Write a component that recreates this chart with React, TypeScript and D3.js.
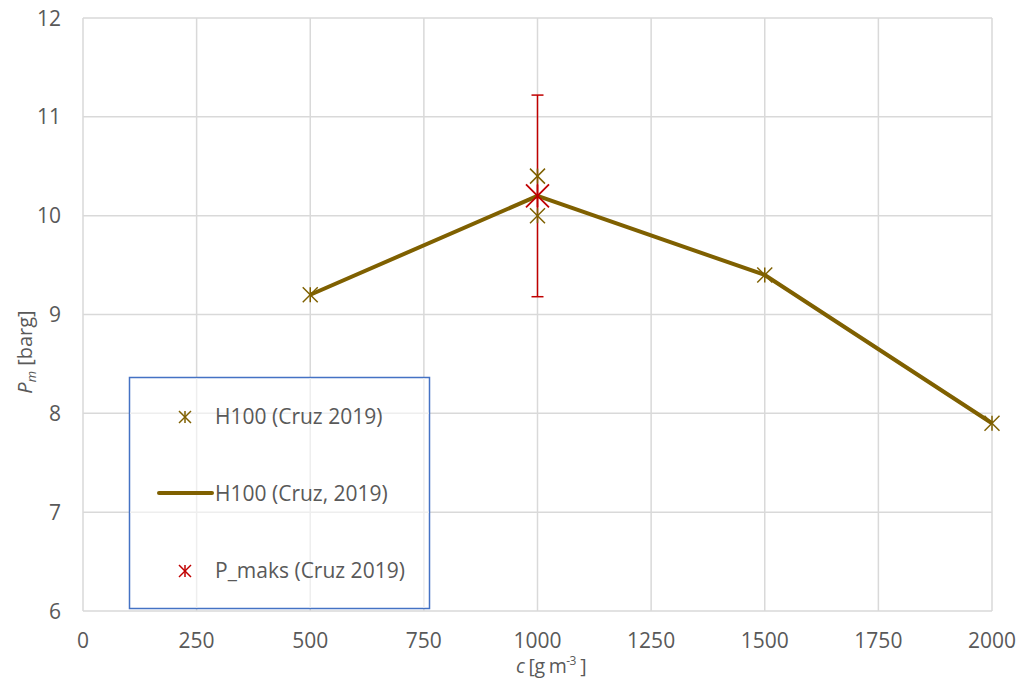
import React from "react";
import * as d3 from "d3";

// H100 measured points (Cruz 2019)
const h100X = [500, 1000, 1000, 1500, 2000];
const h100Y = [9.2, 10.4, 10.0, 9.4, 7.9];

// H100 mean line (Cruz, 2019)
const lineX = [500, 1000, 1500, 2000];
const lineY = [9.2, 10.2, 9.4, 7.9];

// P_maks with error bar
const pmaksX = [1000];
const pmaksY = [10.2];
const pmaksErr = [1.02];

const xTicks = [0, 250, 500, 750, 1000, 1250, 1500, 1750, 2000];
const yTicks = [6, 7, 8, 9, 10, 11, 12];

const W = 1019;
const H = 684;
const FONT = "'Open Sans', Lato, sans-serif";
const FS = 21;
const GOLD = "#7F6000";
const RED = "#C00000";
const TEXT = "#595959";

function Star({ x, y, r, color, w = 1.5 }: { x: number; y: number; r: number; color: string; w?: number }) {
  return (
    <g stroke={color} strokeWidth={w}>
      <line x1={x - r} y1={y - r} x2={x + r} y2={y + r} />
      <line x1={x - r} y1={y + r} x2={x + r} y2={y - r} />
      <line x1={x} y1={y - r} x2={x} y2={y + r} />
    </g>
  );
}

export default function App() {
  const x = d3.scaleLinear().domain([0, 2000]).range([83, 992]);
  const y = d3.scaleLinear().domain([6, 12]).range([611, 18]);
  const line = d3
    .line<number>()
    .x((_, i) => x(lineX[i]))
    .y((d) => y(d));

  return (
    <svg
      width={W}
      height={H}
      style={{ position: "absolute", left: 0, top: 0, background: "#fff" }}
      fontFamily={FONT}
    >
      {/* grid */}
      {xTicks.map((t) => (
        <line key={"gx" + t} x1={x(t)} x2={x(t)} y1={y(12)} y2={y(6)} stroke="#D9D9D9" strokeWidth={1.5} />
      ))}
      {yTicks.map((t) => (
        <line key={"gy" + t} x1={x(0)} x2={x(2000)} y1={y(t)} y2={y(t)} stroke="#D9D9D9" strokeWidth={1.5} />
      ))}

      {/* tick labels */}
      {xTicks.map((t) => (
        <text key={"tx" + t} x={x(t)} y={648} textAnchor="middle" fontSize={FS} fill={TEXT}>
          {t}
        </text>
      ))}
      {yTicks.map((t) => (
        <text key={"ty" + t} x={61} y={y(t) + 7.5} textAnchor="end" fontSize={FS} fill={TEXT}>
          {t}
        </text>
      ))}

      {/* axis titles */}
      <text x={551} y={673} textAnchor="middle" fontSize={19.5} letterSpacing={-0.6} fill={TEXT}>
        <tspan fontStyle="italic">c</tspan>
        <tspan> [g m</tspan>
        <tspan fontSize={12} dy={-8}>-3</tspan>
        <tspan dy={8}> ]</tspan>
      </text>
      <text transform="translate(32,352) rotate(-90)" textAnchor="middle" fontSize={20} fill={TEXT}>
        <tspan fontStyle="italic">P</tspan>
        <tspan fontStyle="italic" fontSize={13} dy={4}>m</tspan>
        <tspan dy={-4}> [barg]</tspan>
      </text>

      {/* mean line */}
      <path d={line(lineY) || ""} fill="none" stroke={GOLD} strokeWidth={4} strokeLinejoin="round" />

      {/* error bar */}
      {pmaksX.map((v, i) => (
        <g key={"eb" + i} stroke={RED} strokeWidth={1.5}>
          <line x1={x(v)} x2={x(v)} y1={y(pmaksY[i] + pmaksErr[i])} y2={y(pmaksY[i] - pmaksErr[i])} />
          <line x1={x(v) - 6} x2={x(v) + 6} y1={y(pmaksY[i] + pmaksErr[i])} y2={y(pmaksY[i] + pmaksErr[i])} />
          <line x1={x(v) - 6} x2={x(v) + 6} y1={y(pmaksY[i] - pmaksErr[i])} y2={y(pmaksY[i] - pmaksErr[i])} />
        </g>
      ))}

      {/* H100 points */}
      {h100X.map((v, i) => (
        <Star key={"h" + i} x={x(v)} y={y(h100Y[i])} r={7.5} color={GOLD} />
      ))}

      {/* P_maks point */}
      {pmaksX.map((v, i) => (
        <Star key={"p" + i} x={x(v)} y={y(pmaksY[i])} r={11.5} color={RED} w={1.8} />
      ))}

      {/* legend */}
      <rect x={129.5} y={377.5} width={300} height={231} fill="#fff" stroke="#4472C4" strokeWidth={1.5} />
      {[250, 500, 750].map((t) => (
        <line key={"lg" + t} x1={x(t)} x2={x(t)} y1={378.5} y2={607.5} stroke="#EEEEEE" strokeWidth={1.5} />
      ))}
      <line x1={130} x2={429} y1={y(8)} y2={y(8)} stroke="#EEEEEE" strokeWidth={1.5} />
      <line x1={130} x2={429} y1={y(7)} y2={y(7)} stroke="#EEEEEE" strokeWidth={1.5} />
      <Star x={185} y={417} r={6} color={GOLD} />
      <text x={215} y={424} fontSize={FS} fill={TEXT}>H100 (Cruz 2019)</text>
      <line x1={159} x2={212} y1={493} y2={493} stroke={GOLD} strokeWidth={4} strokeLinecap="round" />
      <text x={215} y={500.5} fontSize={FS} fill={TEXT}>H100 (Cruz, 2019)</text>
      <Star x={185} y={571} r={6} color={RED} />
      <text x={215} y={577.5} fontSize={FS} fill={TEXT}>P_maks (Cruz 2019)</text>
    </svg>
  );
}
